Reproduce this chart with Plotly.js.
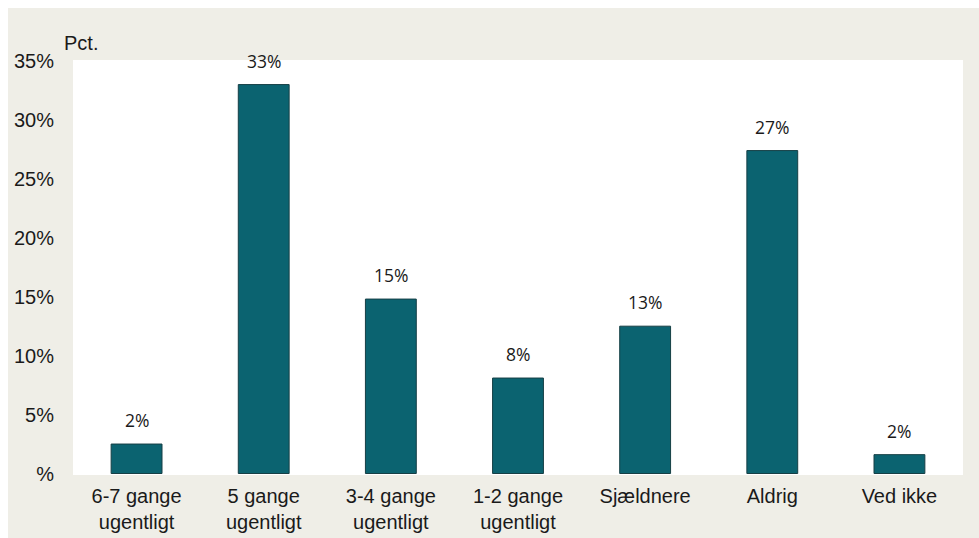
<!DOCTYPE html>
<html>
<head>
<meta charset="utf-8">
<script src="https://cdn.plot.ly/plotly-3.0.1.min.js"></script>
<style>
  html, body { margin: 0; padding: 0; background: #ffffff; }
  #chart { position: absolute; left: 8px; top: 8px; width: 971px; height: 530px; }
</style>
</head>
<body>
<div id="chart"></div>
<script>
const categories = ["6-7 gange<br>ugentligt", "5 gange<br>ugentligt", "3-4 gange<br>ugentligt", "1-2 gange<br>ugentligt", "Sjældnere", "Aldrig", "Ved ikke"];
const values = [2.5, 33.0, 14.8, 8.1, 12.5, 27.4, 1.6];
const valueLabels = ["2%", "33%", "15%", "8%", "13%", "27%", "2%"];
const yTickVals = [0, 5, 10, 15, 20, 25, 30, 35];
const yTickText = ["%", "5%", "10%", "15%", "20%", "25%", "30%", "35%"];

const trace = {
  type: "bar",
  x: categories,
  y: values,
  marker: { color: "#0B6370", line: { color: "#163f45", width: 1 } },
  hoverinfo: "none"
};

const annotations = categories.map((c, i) => ({
  x: c, y: values[i], xref: "x", yref: "y",
  text: valueLabels[i], showarrow: false,
  yanchor: "middle", yshift: 24,
  font: { family: "Open Sans, sans-serif", size: 17.5, color: "#1a1a1a" }
}));
annotations.push({
  x: 0, y: 1, xref: "paper", yref: "paper",
  xanchor: "left", yanchor: "middle", xshift: -11, yshift: 17,
  text: "Pct.", showarrow: false,
  font: { family: "Liberation Sans, Arial, sans-serif", size: 20, color: "#1a1a1a" }
});

const layout = {
  width: 971, height: 530,
  paper_bgcolor: "#EFEEE7",
  plot_bgcolor: "#ffffff",
  margin: { l: 65, r: 16, t: 52, b: 63 },
  bargap: 0.6,
  showlegend: false,
  font: { family: "Liberation Sans, Arial, sans-serif", size: 20, color: "#1a1a1a" },
  xaxis: {
    showgrid: false, zeroline: false, showline: false,
    ticks: "", ticklabelstandoff: 7,
    tickfont: { family: "Liberation Sans, Arial, sans-serif", size: 20, color: "#1a1a1a" }
  },
  yaxis: {
    range: [-0.127, 35.085],
    tickvals: yTickVals, ticktext: yTickText,
    showgrid: false, zeroline: false, showline: false,
    ticks: "", ticklabelstandoff: 18,
    tickfont: { family: "Liberation Sans, Arial, sans-serif", size: 20, color: "#1a1a1a" }
  },
  annotations: annotations
};

Plotly.newPlot("chart", [trace], layout, { staticPlot: true, displayModeBar: false });
</script>
</body>
</html>
